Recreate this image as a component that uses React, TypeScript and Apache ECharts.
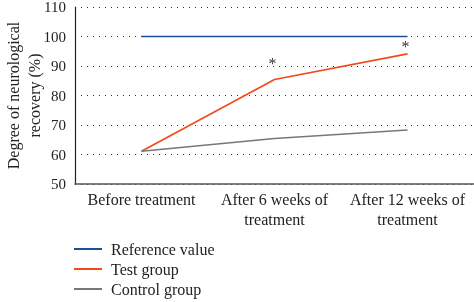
import React, { useEffect, useRef } from "react";
import * as echarts from "echarts";

const categories = ["Before treatment", "After 6 weeks of\ntreatment", "After 12 weeks of\ntreatment"];
const referenceValue = [100, 100, 100];
const testGroup = [61.1, 85.4, 94.1];
const controlGroup = [61.1, 65.4, 68.3];
const significance = ["", "*", "*"];
const yTicks = { min: 50, max: 110, interval: 10 };
const seriesNames = ["Reference value", "Test group", "Control group"];

const FONT = "'Liberation Serif', 'DejaVu Serif', serif";

export default function App() {
  const ref = useRef<HTMLDivElement>(null);
  useEffect(() => {
    if (!ref.current) return;
    const chart = echarts.init(ref.current, undefined, { renderer: "svg" });
    const legends = seriesNames.map((n, i) => ({
      orient: "vertical",
      left: 74,
      top: 241 + i * 20,
      itemGap: 0,
      itemWidth: 28,
      itemHeight: 2,
      icon: "rect",
      padding: 0,
      textStyle: { fontFamily: FONT, fontSize: 16, color: "#222", padding: [0, 0, 0, 4] },
      data: [n],
    }));
    chart.setOption({
      animation: false,
      textStyle: { fontFamily: FONT },
      grid: { left: 75, right: 0, top: 7, bottom: 118, containLabel: false, outerBoundsMode: "none" },
      legend: legends,
      xAxis: {
        type: "category",
        data: categories,
        boundaryGap: true,
        axisLine: { lineStyle: { color: "#555", width: 1.5 } },
        axisTick: { show: false },
        axisLabel: { fontFamily: FONT, fontSize: 16, color: "#222", lineHeight: 20, margin: 5, interval: 0 },
      },
      yAxis: {
        type: "value",
        min: yTicks.min,
        max: yTicks.max,
        interval: yTicks.interval,
        name: "Degree of neurological\nrecovery (%)",
        nameLocation: "middle",
        nameRotate: 90,
        nameGap: 30,
        nameMoveOverlap: false,
        nameTextStyle: { fontFamily: FONT, fontSize: 16, color: "#222", lineHeight: 21 },
        axisLine: { show: true, lineStyle: { color: "#222", width: 1.2 } },
        axisTick: { show: false },
        axisLabel: { fontFamily: FONT, fontSize: 15, color: "#222", margin: 9 },
        splitLine: { show: true, lineStyle: { color: "#333", type: [1, 5], width: 1 } },
      },
      series: [
        {
          name: seriesNames[0],
          type: "line",
          data: referenceValue,
          symbol: "circle",
          symbolSize: 0,
          lineStyle: { color: "#1f4e9c", width: 1.6 },
          itemStyle: { color: "#1f4e9c" },
        },
        {
          name: seriesNames[1],
          type: "line",
          data: testGroup.map((v, i) => ({
            value: v,
            label: {
              show: significance[i] !== "",
              formatter: significance[i],
              position: "top",
              distance: i === 1 ? 8 : -1,
              offset: [-2, 0],
              fontSize: 16,
              color: "#333",
              fontFamily: FONT,
            },
          })),
          symbol: "circle",
          symbolSize: 0,
          lineStyle: { color: "#f04a1c", width: 1.6 },
          itemStyle: { color: "#f04a1c" },
        },
        {
          name: seriesNames[2],
          type: "line",
          data: controlGroup,
          symbol: "circle",
          symbolSize: 0,
          lineStyle: { color: "#777", width: 1.6 },
          itemStyle: { color: "#777" },
        },
      ],
    });
    return () => chart.dispose();
  }, []);
  return <div ref={ref} style={{ position: "fixed", left: 0, top: 0, width: 474, height: 302 }} />;
}
